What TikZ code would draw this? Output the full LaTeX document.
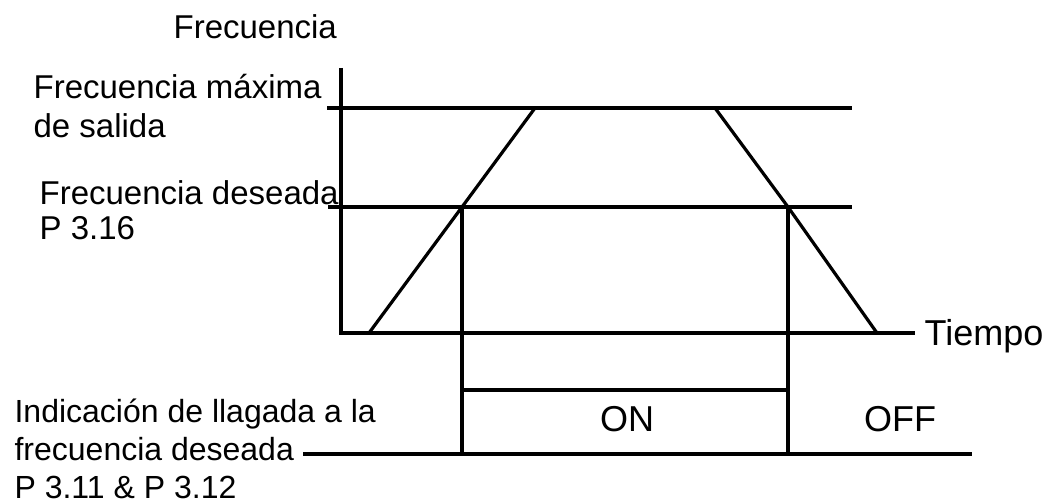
\documentclass[tikz,border=0pt]{standalone}
\usepackage{fontspec}
\setmainfont{Liberation Sans}
\tikzset{
    lbl/.style={anchor=base west, inner sep=0pt, font=\fontsize{33}{38}\selectfont},
    sig/.style={lbl, font=\fontsize{32}{38}\selectfont},
    mid/.style={anchor=base, inner sep=0pt, font=\fontsize{36}{40}\selectfont},
}
\begin{document}
\begin{tikzpicture}[x=1pt, y=-1pt, line width=3.2pt]
    \useasboundingbox (0,0) rectangle (1047,503);
    % axes
    \coordinate (ytop) at (341,68);
    \coordinate (orig) at (341,333);
    \coordinate (xend) at (915,333);
    \draw (ytop) -- (orig) -- (xend);
    % levels
    \coordinate (maxl) at (327,108);
    \coordinate (maxr) at (852,108);
    \coordinate (desl) at (328,207);
    \coordinate (desr) at (852,207);
    \draw (maxl) -- (maxr);
    \draw (desl) -- (desr);
    % frequency curve
    \coordinate (start) at (369,333);
    \coordinate (up) at (462,207);
    \coordinate (topl) at (535,108);
    \coordinate (topr) at (715,108);
    \coordinate (down) at (788,207);
    \coordinate (stop) at (877,333);
    \draw (start) -- (up) -- (topl) -- (topr) -- (down) -- (stop);
    % indication signal
    \coordinate (onl) at (462,390);
    \coordinate (onr) at (788,390);
    \coordinate (lowl) at (303,454);
    \coordinate (lowr) at (972,454);
    \draw (up) -- (up |- lowl);
    \draw (down) -- (down |- lowl);
    \draw (onl) -- (onr);
    \draw (lowl) -- (lowr);
    % labels
    \node[lbl] (freq) at (172,39) {Frecuencia};
    \node[lbl] (maxa) at (32,99) {Frecuencia máxima};
    \node[lbl] (maxb) at (32,137) {de salida};
    \node[lbl] (desa) at (38,204) {Frecuencia deseada};
    \node[lbl] (desb) at (38,239) {P 3.16};
    \node[lbl, font=\fontsize{36}{40}\selectfont] (time) at (923,345) {Tiempo};
    \node[mid] (on) at (627,431) {ON};
    \node[mid] (off) at (900,431) {OFF};
    \node[sig] (inda) at (13,422) {Indicación de llagada a la};
    \node[sig] (indb) at (13,460) {frecuencia deseada};
    \node[sig] (indc) at (13,498) {P 3.11 \& P 3.12};
\end{tikzpicture}
\end{document}
